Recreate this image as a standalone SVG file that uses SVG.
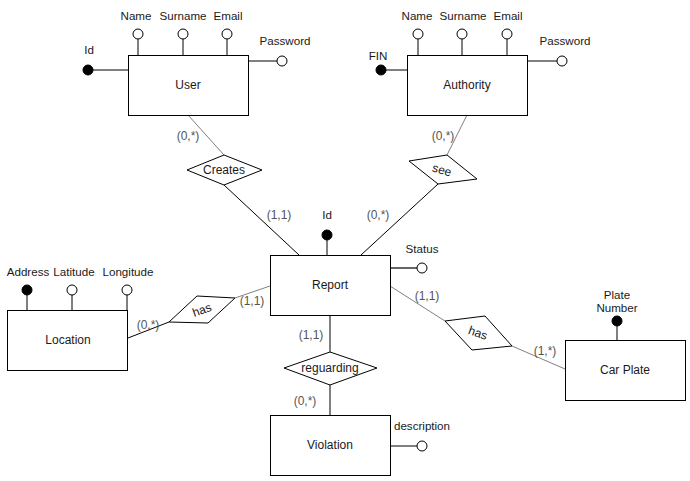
<svg xmlns="http://www.w3.org/2000/svg" width="690" height="481" viewBox="0 0 690 481">
<style>
text{font-family:"Liberation Sans",Arial,sans-serif;font-size:12px;fill:#1a1a1a;text-anchor:middle}
.card{fill:#555555}
.lbl{font-size:11.6px}
.ent{fill:#fff;stroke:#000;stroke-width:1}
.rel{fill:#fff;stroke:#000;stroke-width:1}
.ln{stroke:#000;stroke-width:1;fill:none}
.gl{stroke:#808080;stroke-width:1;fill:none}
.att{fill:#fff;stroke:#000;stroke-width:1}
.key{fill:#000;stroke:#000;stroke-width:1}
</style>
<rect width="690" height="481" fill="#fff"/>
<g id="connectors">
<line class="gl" x1="188" y1="115" x2="224" y2="155"/>
<line class="ln" x1="224" y1="185" x2="299" y2="255"/>
<line class="gl" x1="467" y1="115" x2="447" y2="155"/>
<line class="ln" x1="438" y1="184" x2="361" y2="255"/>
<line class="ln" x1="128" y1="338" x2="169" y2="322"/>
<line class="gl" x1="235" y1="298" x2="270" y2="286"/>
<line class="gl" x1="390" y1="286" x2="445" y2="321"/>
<line class="gl" x1="512" y1="346" x2="565" y2="369"/>
<line class="ln" x1="330" y1="315" x2="330" y2="352"/>
<line class="ln" x1="330" y1="385" x2="330" y2="415"/>
<text class="card" x="188" y="140">(0,*)</text>
<text class="card" x="279" y="219">(1,1)</text>
<text class="card" x="443" y="140">(0,*)</text>
<text class="card" x="378" y="219">(0,*)</text>
<text class="card" x="148" y="329">(0,*)</text>
<text class="card" x="252" y="305">(1,1)</text>
<text class="card" x="427" y="300">(1,1)</text>
<text class="card" x="545" y="355">(1,*)</text>
<text class="card" x="311" y="339">(1,1)</text>
<text class="card" x="305" y="405">(0,*)</text>
</g>
<g id="user">
<line class="ln" x1="138" y1="39" x2="138" y2="55"/>
<line class="ln" x1="183" y1="39" x2="183" y2="55"/>
<line class="ln" x1="227" y1="39" x2="227" y2="55"/>
<line class="ln" x1="248" y1="61" x2="277" y2="61"/>
<line class="ln" x1="93" y1="70" x2="128" y2="70"/>
<rect class="ent" x="128.5" y="55.5" width="120" height="60"/>
<text x="188" y="89">User</text>
<circle class="att" cx="138" cy="34" r="5"/>
<circle class="att" cx="183" cy="34" r="5"/>
<circle class="att" cx="227" cy="34" r="5"/>
<circle class="att" cx="282" cy="61" r="5"/>
<circle class="key" cx="88" cy="70" r="5"/>
<text class="lbl" x="136" y="20">Name</text>
<text class="lbl" x="183" y="20">Surname</text>
<text class="lbl" x="228" y="20">Email</text>
<text class="lbl" x="285" y="45">Password</text>
<text class="lbl" x="89" y="54">Id</text>
</g>
<g id="authority">
<line class="ln" x1="418" y1="39" x2="418" y2="55"/>
<line class="ln" x1="462" y1="39" x2="462" y2="55"/>
<line class="ln" x1="507" y1="39" x2="507" y2="55"/>
<line class="ln" x1="527" y1="61" x2="557" y2="61"/>
<line class="ln" x1="386" y1="70" x2="407" y2="70"/>
<rect class="ent" x="407.5" y="55.5" width="120" height="60"/>
<text x="467" y="89">Authority</text>
<circle class="att" cx="418" cy="34" r="5"/>
<circle class="att" cx="462" cy="34" r="5"/>
<circle class="att" cx="507" cy="34" r="5"/>
<circle class="att" cx="562" cy="61" r="5"/>
<circle class="key" cx="381" cy="70" r="5"/>
<text class="lbl" x="417" y="20">Name</text>
<text class="lbl" x="463" y="20">Surname</text>
<text class="lbl" x="508" y="20">Email</text>
<text class="lbl" x="565" y="45">Password</text>
<text class="lbl" x="378" y="60">FIN</text>
</g>
<g id="creates">
<polygon class="rel" points="187,170 224,155 262,170 224,185"/>
<text x="224" y="174">Creates</text>
</g>
<g id="see">
<polygon class="rel" points="409,161 447,155 477,179 438,184"/>
<text x="442" y="174" transform="rotate(15 442 170)">see</text>
</g>
<g id="report">
<line class="ln" x1="327" y1="235" x2="327" y2="255"/>
<line stroke="#666" stroke-width="2" x1="390" y1="268" x2="417" y2="268"/>
<rect class="ent" x="270.5" y="255.5" width="120" height="60"/>
<text x="330" y="289">Report</text>
<circle class="key" cx="327" cy="235" r="5"/>
<circle class="att" cx="422" cy="268" r="5"/>
<text class="lbl" x="327" y="219">Id</text>
<text class="lbl" x="422" y="253">Status</text>
</g>
<g id="location">
<line class="ln" x1="27" y1="290" x2="27" y2="310"/>
<line class="ln" x1="72" y1="290" x2="72" y2="310"/>
<line class="ln" x1="127" y1="290" x2="127" y2="310"/>
<rect class="ent" x="7.5" y="310.5" width="120" height="60"/>
<text x="68" y="344">Location</text>
<circle class="key" cx="27" cy="290" r="5"/>
<circle class="att" cx="72" cy="290" r="5"/>
<circle class="att" cx="127" cy="290" r="5"/>
<text class="lbl" x="28" y="276">Address</text>
<text class="lbl" x="74" y="276">Latitude</text>
<text class="lbl" x="128" y="276">Longitude</text>
</g>
<g id="has-location">
<polygon class="rel" points="169,322 197,296 235,298 208,323"/>
<text x="202" y="314" transform="rotate(-20 202 310)">has</text>
</g>
<g id="has-plate">
<polygon class="rel" points="445,321 485,316 512,346 472,350"/>
<text x="478" y="337" transform="rotate(20 478 333)">has</text>
</g>
<g id="carplate">
<line class="ln" x1="617" y1="321" x2="617" y2="340"/>
<rect class="ent" x="565.5" y="340.5" width="120" height="60"/>
<text x="625" y="374">Car Plate</text>
<circle class="key" cx="617" cy="321" r="5"/>
<text class="lbl" x="617" y="299">Plate</text>
<text class="lbl" x="617" y="312">Number</text>
</g>
<g id="reguarding">
<polygon class="rel" points="284,368 330,352 377,368 330,385"/>
<text x="330" y="372">reguarding</text>
</g>
<g id="violation">
<line class="ln" x1="390" y1="446" x2="417" y2="446"/>
<rect class="ent" x="270.5" y="415.5" width="120" height="60"/>
<text x="330" y="449">Violation</text>
<circle class="att" cx="422" cy="446" r="5"/>
<text class="lbl" x="422" y="430">description</text>
</g>
</svg>
